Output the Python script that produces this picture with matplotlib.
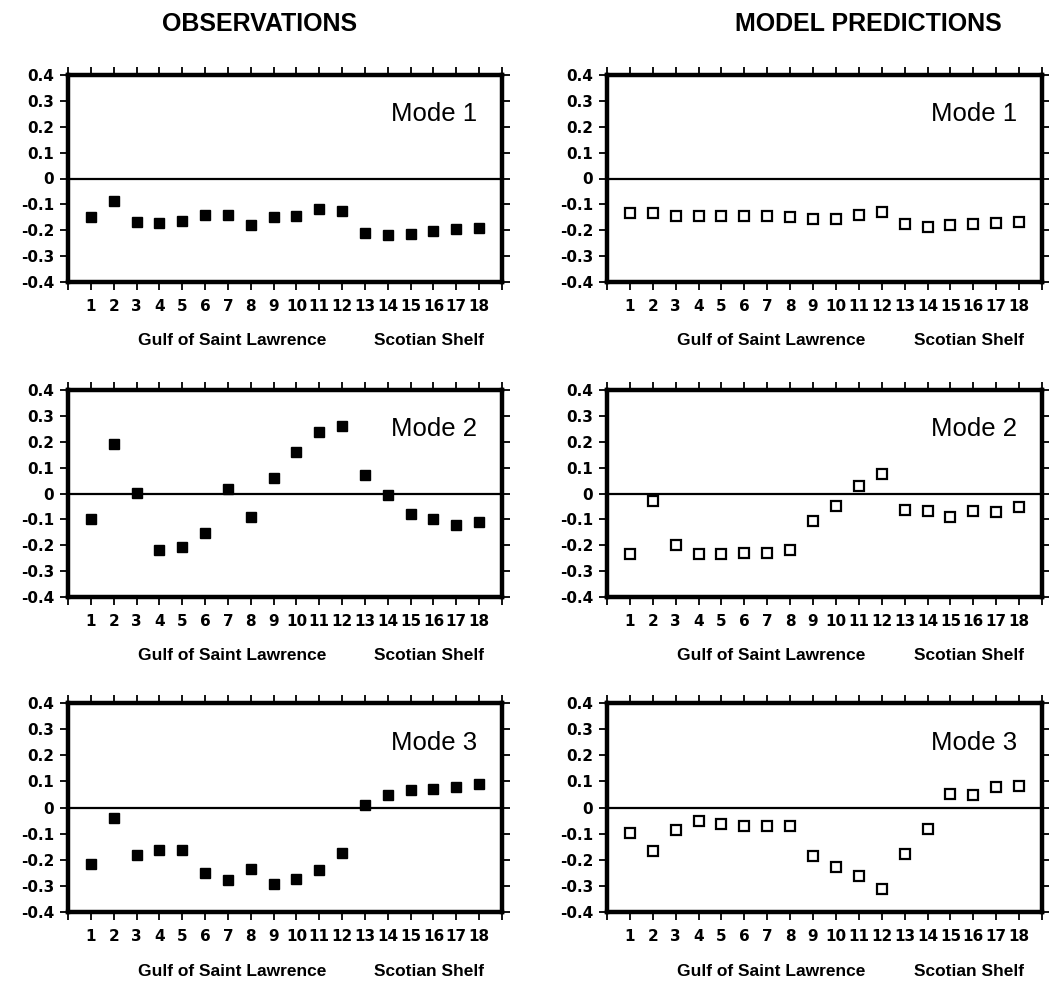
import matplotlib
matplotlib.use("Agg")
import matplotlib.pyplot as plt
from matplotlib.ticker import FixedLocator

stations = list(range(1, 19))
xtick_positions = list(range(0, 20))
xtick_labels = [""] + [str(s) for s in stations] + [""]
ytick_values = [-0.4, -0.3, -0.2, -0.1, 0.0, 0.1, 0.2, 0.3, 0.4]
ytick_labels = ["-0.4", "-0.3", "-0.2", "-0.1", "0", "0.1", "0.2", "0.3", "0.4"]

obs_mode1 = [-0.149, -0.087, -0.168, -0.173, -0.165, -0.141, -0.142, -0.181, -0.149,
             -0.144, -0.117, -0.124, -0.209, -0.217, -0.213, -0.203, -0.197, -0.192]
obs_mode2 = [-0.097, 0.190, 0.003, -0.217, -0.205, -0.152, 0.019, -0.089, 0.060,
             0.162, 0.238, 0.261, 0.073, -0.006, -0.080, -0.097, -0.122, -0.110]
obs_mode3 = [-0.215, -0.041, -0.180, -0.161, -0.161, -0.251, -0.276, -0.237, -0.292,
             -0.272, -0.238, -0.176, 0.010, 0.047, 0.068, 0.072, 0.078, 0.090]

mod_mode1 = [-0.135, -0.133, -0.146, -0.144, -0.144, -0.144, -0.144, -0.149, -0.157,
             -0.155, -0.141, -0.128, -0.175, -0.186, -0.179, -0.177, -0.171, -0.167]
mod_mode2 = [-0.233, -0.030, -0.199, -0.233, -0.233, -0.230, -0.230, -0.219, -0.106,
             -0.048, 0.030, 0.077, -0.063, -0.066, -0.091, -0.066, -0.073, -0.053]
mod_mode3 = [-0.099, -0.166, -0.087, -0.052, -0.064, -0.070, -0.070, -0.070, -0.184,
             -0.228, -0.263, -0.312, -0.177, -0.082, 0.053, 0.049, 0.077, 0.084]

column_titles = ["OBSERVATIONS", "MODEL PREDICTIONS"]
mode_labels = ["Mode 1", "Mode 2", "Mode 3"]
region_labels = ["Gulf of Saint Lawrence", "Scotian Shelf"]

obs = [obs_mode1, obs_mode2, obs_mode3]
mod = [mod_mode1, mod_mode2, mod_mode3]

W, H = 1049, 984
fig = plt.figure(figsize=(W / 100, H / 100), dpi=100)

col_left = [68, 607]
col_width = [434, 435]
row_top = [75, 390, 703]
row_height = [207, 207, 209]

TEXT_FONT = ["Liberation Sans", "DejaVu Sans"]
TICK_FONT = ["DejaVu Sans"]

for c in range(2):
    for r in range(3):
        l = col_left[c] / W
        b = 1 - (row_top[r] + row_height[r]) / H
        w = col_width[c] / W
        h = row_height[r] / H
        ax = fig.add_axes([l, b, w, h])
        data = obs[r] if c == 0 else mod[r]
        if c == 0:
            ax.plot(stations, data, linestyle="none", marker="s", markersize=6.5,
                    markerfacecolor="black", markeredgecolor="black", zorder=3)
        else:
            ax.plot(stations, data, linestyle="none", marker="s", markersize=6.5,
                    markerfacecolor="white", markeredgecolor="black",
                    markeredgewidth=1.6, zorder=3)
        ax.axhline(0, color="black", lw=1.6, zorder=2)
        ax.set_xlim(0, 19)
        ax.set_ylim(-0.4, 0.4)
        ax.xaxis.set_major_locator(FixedLocator(xtick_positions))
        ax.set_xticklabels(xtick_labels)
        ax.yaxis.set_major_locator(FixedLocator(ytick_values))
        ax.set_yticklabels(ytick_labels)
        ax.tick_params(direction="out", length=6, width=1.3, top=True, right=True,
                       labeltop=False, labelright=False, colors="black")
        ax.tick_params(axis="x", pad=6)
        ax.tick_params(axis="y", pad=4)
        for lab in ax.get_xticklabels() + ax.get_yticklabels():
            lab.set_fontfamily(TICK_FONT)
            lab.set_fontweight("bold")
            lab.set_fontsize(11)
        for sp in ax.spines.values():
            sp.set_linewidth(3.2)
        ax.text(0.943, 0.81, mode_labels[r], transform=ax.transAxes,
                ha="right", va="center", fontsize=18.5, family=TEXT_FONT)
        ax.text(0.378, -0.285, region_labels[0], transform=ax.transAxes,
                ha="center", va="center", fontsize=12.5, fontweight="bold",
                family=TEXT_FONT)
        ax.text(0.832, -0.285, region_labels[1], transform=ax.transAxes,
                ha="center", va="center", fontsize=12.5, fontweight="bold",
                family=TEXT_FONT)

fig.text(260 / W, 1 - 24 / H, column_titles[0], ha="center", va="center",
         fontsize=18, fontweight="bold", family=TEXT_FONT)
fig.text(868 / W, 1 - 24 / H, column_titles[1], ha="center", va="center",
         fontsize=18, fontweight="bold", family=TEXT_FONT)

fig.savefig("out.png", dpi=100)
